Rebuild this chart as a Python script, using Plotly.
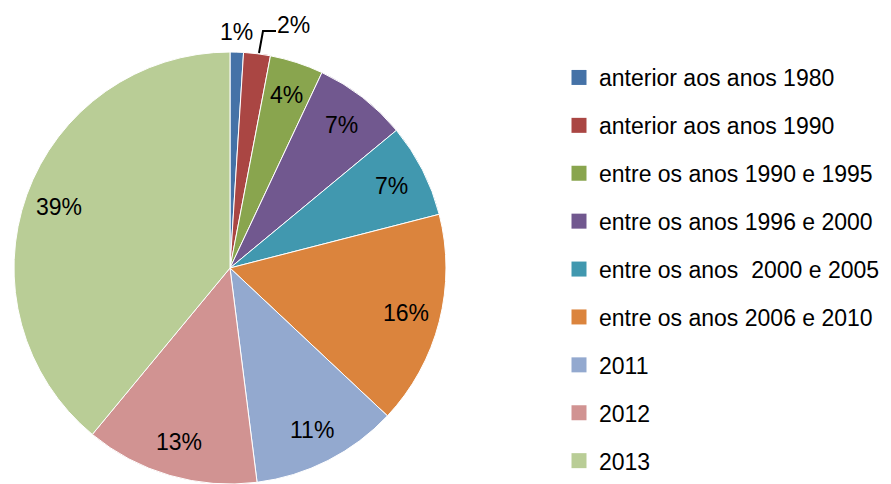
import math
import plotly.graph_objects as go

labels = ["anterior aos anos 1980", "anterior aos anos 1990", "entre os anos 1990 e 1995",
          "entre os anos 1996 e 2000", "entre os anos  2000 e 2005", "entre os anos 2006 e 2010",
          "2011", "2012", "2013"]
values = [1, 2, 4, 7, 7, 16, 11, 13, 39]
colors = ["#4572A7", "#AA4643", "#89A54E", "#71588F", "#4198AF", "#DB843D",
          "#93A9CF", "#D19392", "#B9CD96"]

FONT = "Liberation Sans"
OFF = 8                      # page body margin
W, H = 891 - OFF, 484 - OFF  # figure size so it fills the window
CX, CY, R = 230, 268, 216    # pie centre / radius in window pixels


def px2paper(px, py):
    return (px - OFF) / W, 1 - (py - OFF) / H


fig = go.Figure()
fig.add_trace(go.Pie(
    labels=labels, values=values, sort=False, direction="clockwise", rotation=0,
    marker=dict(colors=colors, line=dict(color="white", width=1)),
    textinfo="none",
    domain=dict(x=[(CX - R - OFF) / W, (CX + R - OFF) / W],
                y=[max(0, 1 - (CY + R - OFF) / H), 1 - (CY - R - OFF) / H]),
    showlegend=False, hoverinfo="label+percent",
))

# percentage labels, placed along each slice's mid angle like Excel does
total = sum(values)
cum = 0
for i, v in enumerate(values):
    mid = (cum + v / 2) / total * 2 * math.pi
    cum += v
    txt = f"{round(v / total * 100)}%"
    if i == 0:
        px, py = 236, 32
    elif i == 1:
        px, py = 293, 25
    else:
        px = CX + 0.84 * R * math.sin(mid)
        py = CY - 0.84 * R * math.cos(mid)
    ax, ay = px2paper(px, py)
    fig.add_annotation(x=ax, y=ay, xref="paper", yref="paper", text=txt,
                       xanchor="center", yanchor="middle", showarrow=False,
                       font=dict(family=FONT, size=23, color="black"))

# leader line for the 2% label
pts = [px2paper(259, 53), px2paper(263, 31), px2paper(276, 31)]
fig.add_shape(type="path", xref="paper", yref="paper",
              path="M " + " L ".join(f"{a} {b}" for a, b in pts),
              line=dict(color="black", width=2))

# legend entries (separate traces so the gap between rows can be set)
for lab, col in zip(labels, colors):
    fig.add_trace(go.Scatter(
        x=[None], y=[None], mode="markers", name=lab, legendgroup=lab,
        marker=dict(symbol="square", size=15, color=col),
    ))

lx, ly = px2paper(559, 56)
fig.update_layout(
    width=W, height=H,
    margin=dict(l=0, r=0, t=0, b=0),
    paper_bgcolor="white", plot_bgcolor="white",
    xaxis=dict(visible=False), yaxis=dict(visible=False),
    legend=dict(x=lx, y=ly, xanchor="left", yanchor="top",
                font=dict(family=FONT, size=23, color="black"),
                tracegroupgap=15, itemclick=False, bgcolor="rgba(0,0,0,0)"),
)

fig.write_html("out.html")
